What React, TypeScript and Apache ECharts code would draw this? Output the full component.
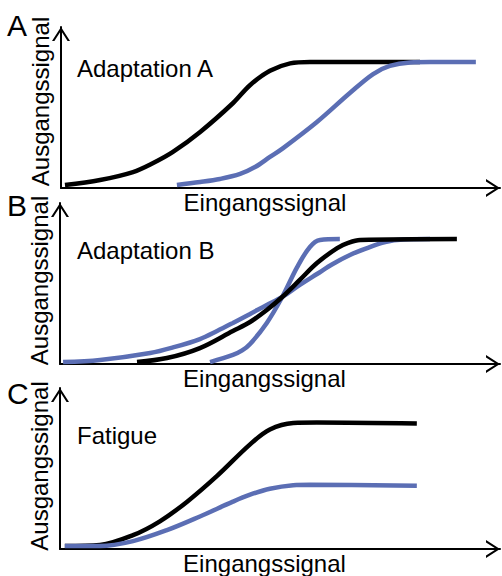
import React, { useEffect, useRef } from "react";
import * as echarts from "echarts";

// Panel texts
const panelLetters = ["A", "B", "C"];
const panelTitles = ["Adaptation A", "Adaptation B", "Fatigue"];
const xAxisName = "Eingangssignal";
const yAxisName = "Ausgangssignal";

// Panel A (x: Eingangssignal 0-100, y: Ausgangssignal 0-100)
const aBlack: [number, number][] = [
  [0.9, 1.9], [8.9, 5.0], [16.4, 9.9], [21.0, 15.5], [25.5, 22.4], [31.7, 34.8],
  [39.2, 52.8], [43.1, 64.0], [47.6, 72.8], [52.2, 77.4], [56.7, 78.3], [81.8, 78.3],
];
const aBlue: [number, number][] = [
  [26.4, 1.9], [31.7, 3.7], [36.2, 5.6], [40.8, 8.7], [44.2, 13.0], [47.6, 19.3],
  [50.6, 24.8], [58.3, 41.0], [65.8, 59.0], [71.1, 70.8], [74.9, 75.8], [79.5, 78.0],
  [84.1, 78.3], [94.5, 78.3],
];

// Panel B
const bBlueWide: [number, number][] = [
  [0.7, 1.2], [9.1, 2.5], [20.5, 6.8], [26.1, 10.6], [31.8, 15.5], [35.7, 20.5],
  [39.3, 25.5], [43.2, 31.1], [46.8, 36.4], [50.5, 41.6], [54.5, 49.1], [58.4, 55.9],
  [62.0, 62.1], [65.9, 67.7], [69.8, 72.0], [73.2, 75.2], [76.6, 77.0], [84.1, 77.6],
];
const bBlueSteep: [number, number][] = [
  [34.1, 1.2], [39.3, 5.6], [41.4, 8.4], [43.2, 12.4], [47.0, 25.5], [50.5, 41.6],
  [53.9, 60.2], [56.8, 72.7], [59.1, 77.0], [63.6, 77.6],
];
const bBlack: [number, number][] = [
  [17.5, 1.2], [24.3, 3.7], [31.8, 9.9], [39.3, 20.5], [43.2, 26.1], [47.0, 33.5],
  [50.5, 41.6], [54.5, 52.2], [58.4, 62.7], [63.0, 72.0], [65.5, 75.2], [68.2, 77.0],
  [90.2, 77.6],
];

// Panel C
const cBlack: [number, number][] = [
  [1.1, 1.8], [9.1, 2.5], [16.6, 8.6], [22.7, 17.2], [28.9, 29.4], [35.7, 45.4],
  [43.2, 65.0], [47.7, 74.2], [53.0, 78.2], [58.4, 78.5], [81.1, 77.9],
];
const cBlue: [number, number][] = [
  [1.1, 1.8], [9.1, 1.8], [16.6, 4.9], [24.3, 11.7], [31.8, 20.2], [39.3, 29.4],
  [43.2, 33.7], [47.7, 37.4], [53.0, 39.6], [56.8, 39.9], [81.1, 39.3],
];

const BLACK = "#000000";
const BLUE = "#5B6EB4";
const FONT = "Liberation Sans, Arial, sans-serif";
const ARROW = "path://M0,140 L90,0 L180,140 L156,140 L90,37 L24,140 Z";

const grids = [
  { left: 61, right: 2, top: 27, height: 161 },
  { left: 60, right: 2, top: 203, height: 161 },
  { left: 60, right: 2, top: 388, height: 163 },
];
const yNamePad = [12, 6, 5];
const titleTops = [56, 238, 423];
const letterTops = [10, 190, 378];

function axisLine() {
  return {
    show: true,
    onZero: false,
    symbol: ["none", ARROW],
    symbolSize: [18, 14],
    symbolOffset: [0, -7],
    lineStyle: { color: BLACK, width: 2 },
  };
}

function line(data: [number, number][], color: string, xi: number) {
  return {
    type: "line",
    xAxisIndex: xi,
    yAxisIndex: xi,
    data,
    smooth: 0.35,
    showSymbol: false,
    clip: false,
    lineStyle: { color, width: 4.5 },
    silent: true,
  };
}

export default function App() {
  const ref = useRef<HTMLDivElement>(null);
  useEffect(() => {
    if (!ref.current) return;
    const chart = echarts.init(ref.current, undefined, { renderer: "svg" });
    const option: any = {
      animation: false,
      backgroundColor: "#ffffff",
      title: [
        ...panelTitles.map((t, i) => ({
          text: t,
          left: 77,
          top: titleTops[i],
          padding: 0,
          textStyle: { fontFamily: FONT, fontSize: 24, fontWeight: "normal", color: BLACK },
        })),
        ...panelLetters.map((t, i) => ({
          text: t,
          left: 7,
          top: letterTops[i],
          padding: 0,
          textStyle: { fontFamily: FONT, fontSize: 30, fontWeight: "normal", color: BLACK },
        })),
      ],
      grid: grids,
      xAxis: grids.map((_, i) => ({
        type: "value",
        gridIndex: i,
        min: 0,
        max: 100,
        name: xAxisName,
        nameLocation: "middle",
        nameGap: 2,
        nameTextStyle: {
          fontFamily: FONT,
          fontSize: 24,
          color: BLACK,
          padding: [0, 31, 0, 0],
          verticalAlign: "top",
        },
        axisLine: axisLine(),
        axisTick: { show: false },
        axisLabel: { show: false },
        splitLine: { show: false },
      })),
      yAxis: grids.map((_, i) => ({
        type: "value",
        gridIndex: i,
        min: 0,
        max: 100,
        name: yAxisName,
        nameLocation: "middle",
        nameGap: 9,
        nameTextStyle: {
          fontFamily: FONT,
          fontSize: 24,
          color: BLACK,
          padding: [0, 0, 0, yNamePad[i]],
        },
        axisLine: axisLine(),
        axisTick: { show: false },
        axisLabel: { show: false },
        splitLine: { show: false },
      })),
      series: [
        line(aBlack, BLACK, 0),
        line(aBlue, BLUE, 0),
        line(bBlueWide, BLUE, 1),
        line(bBlueSteep, BLUE, 1),
        line(bBlack, BLACK, 1),
        line(cBlack, BLACK, 2),
        line(cBlue, BLUE, 2),
      ],
    };
    chart.setOption(option);
    return () => chart.dispose();
  }, []);
  return (
    <div
      ref={ref}
      style={{ position: "fixed", left: 0, top: 0, width: 502, height: 576, background: "#fff" }}
    />
  );
}
